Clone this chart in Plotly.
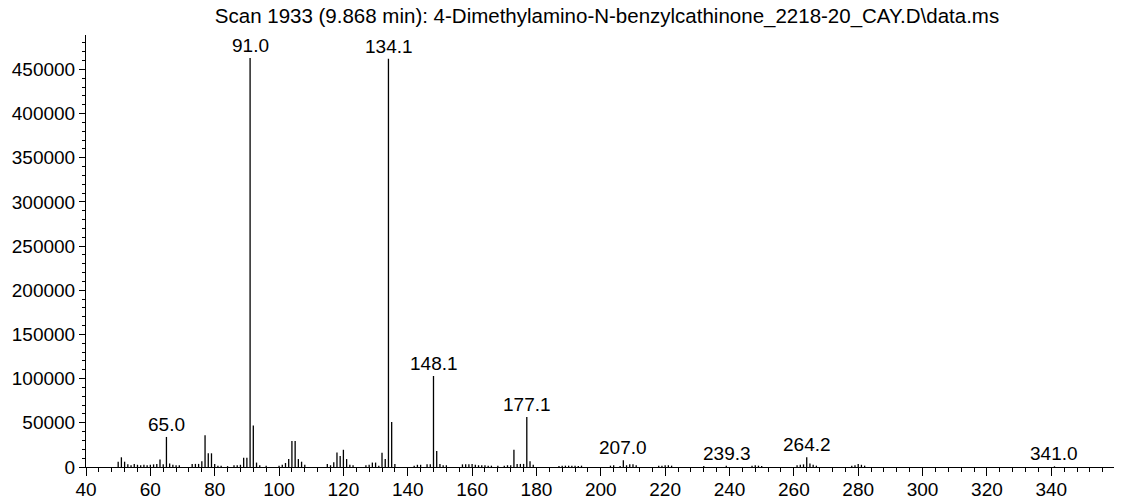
import plotly.graph_objects as go

# m/z values of the peaks and their abundances
mz = [50, 51, 52, 53, 54, 55, 56, 57, 58, 59, 60, 61, 62, 63, 64, 65, 66, 67, 68, 69,
      73, 74, 75, 76, 77, 78, 79, 80, 81, 82, 84, 86, 87, 88, 89, 90, 91, 92, 93, 94, 96,
      100, 101, 102, 103, 104, 105, 106, 107, 108,
      115, 116, 117, 118, 119, 120, 121, 122, 123, 127, 128, 129, 130, 131, 132, 133, 134, 135, 136,
      142, 143, 144, 146, 147, 148, 149, 150, 151, 152,
      157, 158, 159, 160, 161, 162, 163, 164, 165, 166, 168, 170, 171, 172, 173, 174, 175, 176, 177, 178, 179,
      187, 188, 189, 190, 191, 192, 193, 194,
      203, 204, 206, 207, 208, 209, 210, 211,
      218, 219, 220, 221, 222, 232, 239, 247, 248, 249, 250,
      261, 262, 263, 264, 265, 266, 267, 278, 279, 280, 281, 282, 341]
abundance = [6000, 11000, 6000, 3000, 2000, 3500, 2500, 2000, 2500, 2000, 2500, 3000, 3500, 8500, 3000, 34000, 4000, 2500, 2000, 2000,
             3500, 3500, 3500, 6500, 36000, 15500, 15500, 3500, 1500, 1500, 1000, 2000, 2000, 2500, 10500, 10500, 463000, 47000, 5000, 2000, 1500,
             1500, 2500, 4500, 9000, 29500, 29500, 9000, 6000, 2500,
             3500, 2000, 5500, 16500, 12500, 19500, 9000, 2500, 2000, 2000, 2500, 5000, 5000, 1500, 16000, 9000, 462000, 51000, 3500,
             1500, 2500, 2500, 3000, 3000, 103000, 18000, 3500, 2000, 2000,
             3000, 3000, 3000, 3500, 2500, 2000, 2000, 2000, 1500, 1500, 1500, 1500, 2000, 2000, 19500, 3500, 3500, 3500, 56500, 6500, 2500,
             1000, 1500, 1500, 1500, 1500, 1500, 1000, 1500,
             1500, 2000, 1000, 7500, 2000, 3000, 3000, 2000,
             1500, 1500, 2000, 2000, 1500, 1000, 1500, 1500, 2000, 1500, 1000,
             2000, 2500, 3000, 11000, 4000, 2500, 1500, 1500, 2000, 3500, 2500, 1500, 800]

# labelled peaks
label_mz = [65.0, 91.0, 134.1, 148.1, 177.1, 207.0, 239.3, 264.2, 341.0]
label_text = ["65.0", "91.0", "134.1", "148.1", "177.1", "207.0", "239.3", "264.2", "341.0"]

title_text = "Scan 1933 (9.868 min): 4-Dimethylamino-N-benzylcathinone_2218-20_CAY.D\\data.ms"

FONT = "Liberation Sans, Arial, sans-serif"

xs, ys = [], []
for m, a in zip(mz, abundance):
    xs += [m, m, None]
    ys += [0, a, None]

peak_of = dict(zip(mz, abundance))

fig = go.Figure()
fig.add_trace(go.Scatter(x=xs, y=ys, mode="lines",
                         line=dict(color="black", width=1.3),
                         hoverinfo="skip", showlegend=False))

annotations = []
for lm, lt in zip(label_mz, label_text):
    h = peak_of.get(round(lm), 0)
    annotations.append(dict(x=lm, y=h, xref="x", yref="y", text=lt,
                            showarrow=False, yanchor="bottom", yshift=0,
                            font=dict(size=19, family=FONT, color="black")))

fig.update_layout(
    width=1123, height=500,
    margin=dict(l=86, r=9, t=35, b=33, autoexpand=False),
    paper_bgcolor="white", plot_bgcolor="white",
    font=dict(family=FONT, size=19, color="black"),
    title=dict(text=title_text, x=607 / 1123, xref="container", xanchor="center",
               y=1 - 16 / 500, yref="container", yanchor="middle",
               font=dict(size=20.5, family=FONT, color="black")),
    annotations=annotations,
    showlegend=False,
)
fig.update_xaxes(range=[40, 359.5], tickmode="linear", tick0=40, dtick=20,
                 ticks="outside", ticklen=8, tickwidth=1, tickcolor="black",
                 ticklabelstandoff=-3,
                 showline=True, linecolor="black", linewidth=1,
                 showgrid=False, zeroline=False, automargin=False,
                 minor=dict(tick0=40, dtick=4, ticks="outside", ticklen=4,
                            tickwidth=1, tickcolor="black", showgrid=False),
                 tickfont=dict(size=19, family=FONT, color="black"))
fig.update_yaxes(range=[0, 489000], tickmode="linear", tick0=0, dtick=50000,
                 tickformat="d", ticks="outside", ticklen=6, tickwidth=1, tickcolor="black",
                 showline=True, linecolor="black", linewidth=1,
                 showgrid=False, zeroline=False, automargin=False,
                 minor=dict(dtick=10000, ticks="outside", ticklen=3,
                            tickwidth=1, tickcolor="black", showgrid=False),
                 tickfont=dict(size=19, family=FONT, color="black"))

fig.write_html("out.html", config={"displayModeBar": False},
               post_script="document.body.style.margin='0';document.body.style.overflow='hidden';")
